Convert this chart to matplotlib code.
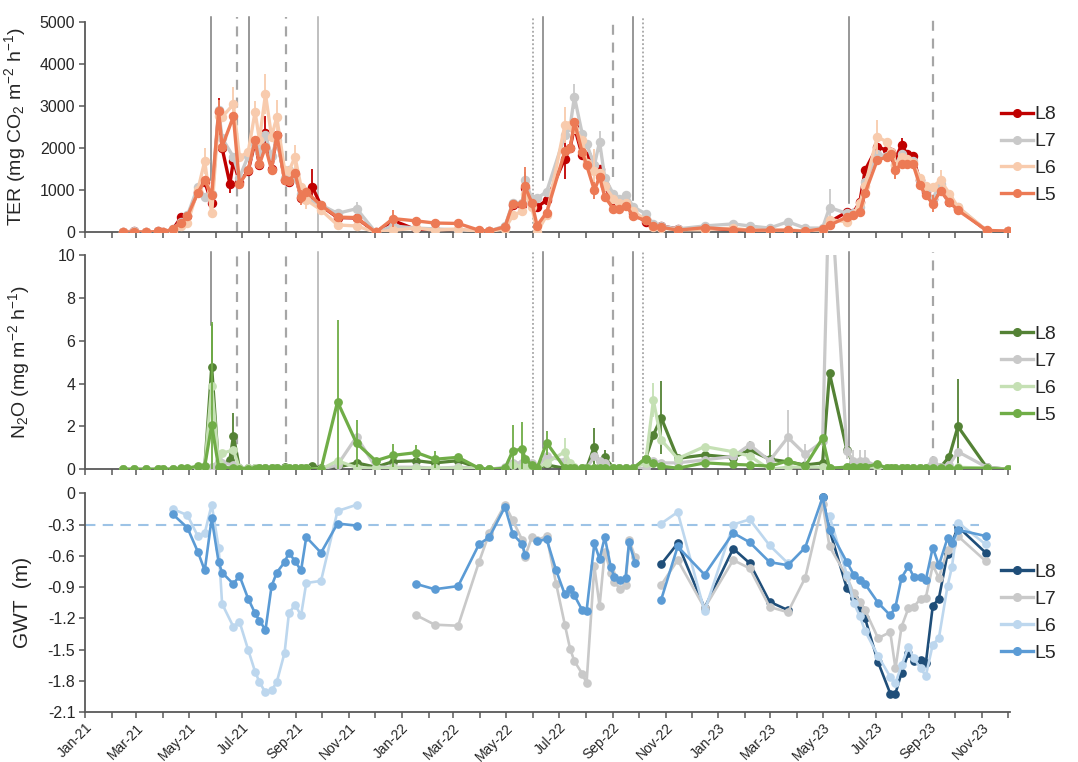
import numpy as np
import pandas as pd
import matplotlib
matplotlib.use("Agg")
import matplotlib.pyplot as plt
import matplotlib.dates as mdates
from matplotlib.ticker import FuncFormatter, MultipleLocator
from matplotlib.lines import Line2D

plt.rcParams['font.family'] = ['Liberation Sans', 'DejaVu Sans']
plt.rcParams['mathtext.default'] = 'regular'

nan = np.nan
series_names = ["L8", "L7", "L6", "L5"]

# ---------------- flux campaign dates (TER and N2O) ----------------
flux_dates = [
    "2021-02-14", "2021-02-26", "2021-03-12", "2021-03-26", "2021-04-01", "2021-04-12", "2021-04-22",
    "2021-04-29", "2021-05-11", "2021-05-19", "2021-05-27", "2021-06-04", "2021-06-08", "2021-06-17",
    "2021-06-21", "2021-06-28", "2021-07-08", "2021-07-16", "2021-07-21", "2021-07-28", "2021-08-04",
    "2021-08-10", "2021-08-19", "2021-08-24", "2021-08-31", "2021-09-07", "2021-09-13", "2021-09-20",
    "2021-09-30", "2021-10-19", "2021-11-10", "2021-12-02", "2021-12-22",
    "2022-01-18", "2022-02-08", "2022-03-07", "2022-03-31", "2022-04-12", "2022-04-30", "2022-05-09",
    "2022-05-20", "2022-05-23", "2022-05-31", "2022-06-06", "2022-06-17", "2022-07-08", "2022-07-14",
    "2022-07-19", "2022-07-28", "2022-08-02", "2022-08-11", "2022-08-17", "2022-08-23", "2022-09-02",
    "2022-09-08", "2022-09-17", "2022-09-25", "2022-10-09", "2022-10-18", "2022-10-27", "2022-11-15",
    "2022-12-16",
    "2023-01-18", "2023-02-06", "2023-03-01", "2023-03-22", "2023-04-11", "2023-05-01", "2023-05-09",
    "2023-05-29", "2023-06-05", "2023-06-13", "2023-06-19", "2023-07-03", "2023-07-14", "2023-07-19",
    "2023-07-24", "2023-07-31", "2023-08-06", "2023-08-13", "2023-08-21", "2023-08-28", "2023-09-05",
    "2023-09-14", "2023-09-24", "2023-10-04", "2023-11-06", "2023-12-01",
]

# ---------------- TER (mg CO2 m-2 h-1) ----------------
ter_L8 = ([0, 30, 0, 20, 0, 60, 370, 380, 950, 1200, 700, 2850, 2000, 1150, 1700, 1200, 1450, 2150, 1600, 2350,
           1500, 2300, 1250, 1200, 1380, 820, 950, 1080, 630, 350, 340, 0, 280]
          + [60, 60, 30, 20, 20, 120, 650, 650, 1050, 700, 600, 760, 1750, 2000, 2500, 1830, 1800, 1500, 1500,
             1100, 700, 620, 650, 450, 250, 150, 150, 80, 80]
          + [60, 40, 40, 40, 20, 80, 245, 483, 450, 721, 1474, 2028, 1950, 1900, 1750, 2069, 1870, 1800, 1230,
             950, 800, 1000, 720, 560, 40, 20])
ter_L7 = ([0, 20, 0, 20, 0, 80, 250, 400, 1077, 840, 900, 2900, 2235, nan, 1790, 1300, 1807, 2100, 1900, 2306,
           1800, 2200, 1300, 1474, 1300, 900, 800, nan, 650, 450, 560, 0, 150]
          + [100, 80, 60, 30, 30, 150, 700, 700, 1240, 800, 806, 964, 2300, 2500, 3217, 2338, 2100, 1593, 2147,
             1300, 900, 800, 880, 600, 444, 200, 150, 80, 150]
          + [200, 150, 100, 250, 100, 100, 587, 450, 450, 600, 1200, 1870, 1800, 1850, 1600, 1870, 1700, 1700,
             1230, 1000, 800, 1158, 800, 601, 40, 20])
ter_L6 = ([0, 0, 0, 0, 0, 40, 150, 213, 1000, 1690, 450, 2750, 2740, nan, 3035, 1790, 1900, 2860, 2200, 3280,
           2270, 2730, 1480, 1450, 1790, 1080, 770, nan, 530, 175, 150, 0, 50]
          + [100, 50, 80, 20, 20, 80, 400, 500, 900, 600, 0, 400, 2545, 2545, 2450, 2200, 1640, 1450, 1400, 1100,
             800, 700, 700, 500, 300, 120, 100, 60, 60]
          + [100, 50, 30, 60, 30, 60, 300, 250, 400, 700, 1100, 2266, 2147, 1900, 1600, 1791, 1750, 1650, 1300,
             1100, 1077, 1236, 920, 600, 40, 20])
ter_L5 = ([0, 10, 0, 20, 0, 80, 230, 380, 940, 1230, 880, 2880, 2030, nan, 2750, 1150, 1470, 2190, 1620, 2020,
           1480, 2320, 1230, 1220, 1400, 830, 960, nan, 640, 360, 350, 0, 325]
          + [270, 220, 210, 50, 30, 130, 680, 670, 1090, 700, 160, 470, 1920, 1990, 2620, 1900, 1600, 1000, 1315,
             840, 560, 560, 620, 380, 285, 150, 120, 50, 110]
          + [64, 50, 50, 50, 20, 88, 166, 364, 402, 483, 935, 1712, 1791, 1870, 1474, 1633, 1633, 1633, 1118,
             880, 682, 982, 721, 523, 48, 24])

ter_err_L8 = {"2021-06-04": 330, "2021-06-17": 220, "2021-07-28": 420, "2021-09-20": 420,
              "2022-07-08": 480, "2022-07-19": 200, "2023-07-03": 150, "2023-07-31": 180}
ter_err_L7 = {"2021-06-04": 250, "2021-11-10": 150, "2022-05-23": 200, "2022-07-19": 300,
              "2022-08-17": 250, "2023-05-09": 450}
ter_err_L6 = {"2021-05-19": 300, "2021-06-21": 420, "2021-07-16": 250, "2021-07-28": 470, "2021-08-10": 400,
              "2021-08-31": 280, "2021-09-13": 220, "2022-05-23": 300, "2022-07-08": 420, "2022-08-11": 520,
              "2023-07-03": 400, "2023-07-24": 320, "2023-09-14": 250}
ter_err_L5 = {"2021-06-04": 250, "2021-09-07": 180, "2021-12-22": 200, "2022-05-23": 450,
              "2022-08-11": 200, "2023-07-24": 200, "2023-09-05": 200}

# ---------------- N2O (mg m-2 h-1) ----------------
n2o_L8 = ([0, 0, 0, 0, 0, 0, 0, 0, 0.1, 0.1, 4.79, 0.1, 0.1, 0.45, 1.55, 0.05, 0.05, 0.05, 0.05, 0.05,
           0.05, 0.05, 0.1, 0.05, 0.05, 0.05, 0.05, 0.15, 0.05, 0.1, 0.3, 0.1, 0.36]
          + [0.4, 0.3, 0.4, 0.05, 0.0, 0.05, 0.1, 0.1, 0.1, 0.1, 0.05, 0.2, 0.05, 0.05, 0.05, 0.05, 0.05, 1.06,
             0.1, 0.56, 0.05, 0.05, 0.05, 0.05, 0.5, 1.6, 2.41, 0.51, 0.67]
          + [0.55, 0.9, 0.47, 0.35, 0.2, 0.3, 4.48, 0.9, 0.3, 0.3, 0.3, 0.1, 0.05, 0.05, 0.05, 0.05, 0.05,
             0.05, 0.05, 0.05, 0.05, 0.1, 0.59, 2.0, 0.1, 0.0])
n2o_L7 = ([0, 0, 0, 0, 0, 0, 0, 0, 0.05, 0.05, 0.1, 0.4, 0.3, nan, 0.2, 0.05, 0.05, 0.05, 0.05, 0.05,
           0.05, 0.05, 0.05, 0.05, 0.05, 0.05, 0.05, nan, 0.0, 0.2, 1.52, 0.1, 0.1]
          + [0.1, 0.05, 0.1, 0.05, 0.0, 0.1, 0.3, 0.3, 0.2, 0.3, 0.1, 0.6, 0.4, 0.1, 0.05, 0.05, 0.05, 0.6,
             0.4, 0.3, 0.05, 0.05, 0.05, 0.05, 0.05, 0.4, 0.3, 0.3, 0.44]
          + [0.6, 1.14, 0.4, 1.49, 0.7, 1.3, 14.0, 0.87, 0.4, 0.4, 0.4, 0.15, 0.05, 0.05, 0.05, 0.05, 0.05,
             0.05, 0.05, 0.05, 0.44, 0.1, 0.2, 0.82, 0.1, 0.0])
n2o_L6 = ([0, 0, 0, 0, 0, 0, 0, 0, 0.05, 0.05, 3.89, 0.3, 0.75, nan, 0.9, 0.05, 0.05, 0.05, 0.05, 0.05,
           0.05, 0.05, 0.05, 0.05, 0.05, 0.05, 0.05, nan, 0.0, 0.4, 0.08, 0.05, 0.05]
          + [0.05, 0.05, 0.05, 0.05, 0.0, 0.05, 0.2, 0.1, 0.1, 0.1, 0.05, 0.3, 0.82, 0.3, 0.1, 0.05, 0.05,
             0.05, 0.05, 0.05, 0.05, 0.05, 0.05, 0.05, 0.3, 3.23, 1.37, 0.5, 1.06]
          + [0.82, 0.62, 0.0, 0.1, 0.1, 0.1, 0.05, 0.1, 0.1, 0.1, 0.1, 0.1, 0.05, 0.05, 0.05, 0.05, 0.05,
             0.05, 0.05, 0.05, 0.05, 0.05, 0.05, 0.1, 0.05, 0.0])
n2o_L5 = ([0, 0, 0, 0, 0, 0, 0.05, 0.05, 0.15, 0.15, 2.07, 0.1, 0.1, nan, 0.05, 0.03, 0.03, 0.03, 0.05, 0.05,
           0.05, 0.08, 0.08, 0.05, 0.05, 0.05, 0.05, nan, 0.0, 3.15, 1.21, 0.4, 0.65]
          + [0.78, 0.47, 0.56, 0.05, 0.0, 0.05, 0.86, 0.95, 0.5, 0.2, 0.05, 1.24, 0.05, 0.05, 0.05, 0.05, 0.05,
             0.05, 0.05, 0.05, 0.05, 0.05, 0.05, 0.05, 0.5, 0.3, 0.15, 0.05, 0.3]
          + [0.23, 0.2, 0.15, 0.39, 0.15, 1.45, 0.05, 0.1, 0.1, 0.1, 0.1, 0.25, 0.05, 0.05, 0.05, 0.05, 0.05,
             0.05, 0.05, 0.05, 0.05, 0.05, 0.05, 0.05, 0.05, 0.0])

n2o_err_L8 = {"2021-05-27": 2.0, "2021-06-21": 1.1, "2022-08-11": 0.85, "2022-08-23": 0.35,
              "2022-10-27": 1.7, "2023-02-06": 0.4, "2023-03-01": 0.9, "2023-10-04": 2.2}
n2o_err_L7 = {"2023-03-22": 1.3, "2023-04-11": 0.5, "2023-05-29": 0.4, "2023-06-05": 0.5,
              "2023-06-13": 0.5, "2023-06-19": 0.5}
n2o_err_L6 = {"2022-07-08": 0.65, "2022-10-18": 0.8}
n2o_err_L5 = {"2021-05-27": 4.8, "2021-10-19": 3.8, "2021-11-10": 1.1, "2021-12-22": 0.55,
              "2022-01-18": 0.35, "2022-02-08": 0.4, "2022-05-09": 1.2, "2022-05-20": 1.25,
              "2022-06-17": 0.55}

# ---------------- GWT (m) ----------------
gwt_dates = [
    "2021-04-12", "2021-04-29", "2021-05-11", "2021-05-19", "2021-05-27", "2021-06-04", "2021-06-08",
    "2021-06-21", "2021-06-28", "2021-07-08", "2021-07-16", "2021-07-21", "2021-07-28", "2021-08-04",
    "2021-08-10", "2021-08-19", "2021-08-24", "2021-08-31", "2021-09-07", "2021-09-13", "2021-09-30",
    "2021-10-19", "2021-11-10", "2021-12-15",
    "2022-01-18", "2022-02-08", "2022-03-07", "2022-03-31", "2022-04-12", "2022-04-30", "2022-05-09",
    "2022-05-20", "2022-05-23", "2022-05-31", "2022-06-06", "2022-06-17", "2022-06-28", "2022-07-08",
    "2022-07-14", "2022-07-19", "2022-07-28", "2022-08-02", "2022-08-11", "2022-08-17", "2022-08-23",
    "2022-08-30", "2022-09-03", "2022-09-10", "2022-09-16", "2022-09-20", "2022-09-27", "2022-10-10",
    "2022-10-27", "2022-11-15", "2022-12-16",
    "2023-01-18", "2023-02-06", "2023-03-01", "2023-03-22", "2023-04-11", "2023-05-01", "2023-05-09",
    "2023-05-29", "2023-06-06", "2023-06-13", "2023-06-19", "2023-07-04", "2023-07-18", "2023-07-24",
    "2023-07-31", "2023-08-08", "2023-08-14", "2023-08-22", "2023-08-28", "2023-09-05", "2023-09-12",
    "2023-09-22", "2023-09-27", "2023-10-04", "2023-11-05",
]
gwt_L8 = ([nan] * 24
          + [nan] * 28
          + [-0.68, -0.48, -1.10]
          + [-0.53, -0.67, -1.04, -1.12, nan, -0.04, -0.35, -0.91, -1.00, -1.10, -1.20, -1.62, -1.92, -1.92,
             -1.72, -1.53, -1.61, -1.60, -1.63, -1.08, -1.01, -0.58, -0.48, -0.32, -0.57])
gwt_L7 = ([nan] * 24
          + [-1.17, -1.26, -1.27, -0.66, -0.38, -0.11, -0.26, -0.45, -0.61, -0.42, -0.45, -0.41, -0.87, -1.26,
             -1.49, -1.61, -1.73, -1.82, -0.70, -1.08, -0.56, -0.76, -0.85, -0.92, -0.88, -0.45, -0.61, nan]
          + [-0.88, -0.64, -1.10]
          + [-0.64, -0.72, -1.09, -1.14, -0.81, -0.10, -0.51, -0.80, -0.96, -1.04, -1.12, -1.39, -1.33, -1.68,
             -1.28, -1.10, -1.09, -1.01, -1.00, -0.69, -0.81, -0.54, -0.50, -0.41, -0.65])
gwt_L6 = ([-0.15, -0.21, -0.41, -0.38, -0.11, -0.52, -1.06, -1.28, -1.23, -1.50, -1.71, -1.81, -1.91, -1.89,
           -1.81, -1.53, -1.15, -1.07, -1.17, -0.86, -0.84, -0.17, -0.11, nan]
          + [nan] * 28
          + [-0.29, -0.18, -1.13]
          + [-0.30, -0.25, -0.50, -0.67, nan, nan, -0.22, -0.78, -1.05, -1.18, -1.32, -1.56, -1.76, -1.82,
             -1.65, -1.47, -1.58, -1.68, -1.75, -1.45, -1.39, -0.89, -0.71, -0.28, -0.49])
gwt_L5 = ([-0.20, -0.33, -0.56, -0.74, -0.24, -0.66, -0.76, -0.87, -0.79, -1.01, -1.15, -1.22, -1.31, -0.89,
           -0.76, -0.66, -0.57, -0.65, -0.74, -0.42, -0.57, -0.29, -0.31, nan]
          + [-0.87, -0.92, -0.89, -0.49, -0.42, -0.13, -0.39, -0.49, -0.59, nan, -0.46, -0.44, -0.74, -0.97,
             -0.92, -0.98, -1.12, -1.13, -0.48, -0.63, -0.42, -0.71, -0.80, -0.83, -0.81, -0.47, -0.67, nan]
          + [-1.02, -0.51, -0.78]
          + [-0.38, -0.47, -0.66, -0.69, -0.52, -0.04, -0.35, -0.66, -0.78, -0.83, -0.87, -1.05, -1.17, -1.09,
             -0.81, -0.70, -0.80, -0.80, -0.83, -0.52, -0.69, -0.43, -0.48, -0.35, -0.41])
gwt_reference = -0.3
gwt_reference_span = ["2021-01-01", "2023-10-28"]

# ---------------- management events (vertical markers) ----------------
event_dates = ["2021-05-26", "2021-06-25", "2021-07-09", "2021-08-21", "2021-09-27", "2022-06-01",
               "2022-06-13", "2022-09-02", "2022-09-25", "2022-10-06", "2023-06-01", "2023-09-05"]
event_kind = ["solid", "dashed", "solid", "dashed", "light", "dotted",
              "solid", "dashed", "solid", "dotted", "solid", "dashed"]
ter_event_floor = [1240, 0, 0, 0, 0, 0, 1240, 1315, 760, 600, 690, 1400]
n2o_event_floor = [6.75, 0.33, 0.24, 0.33, 0, 0.16, 1.0, 0.33, 0, 0.33, 1.0, 0.16]

# ---------------- styling ----------------
ter_colors = ["#C00000", "#C9C9C9", "#F8CBAD", "#EC7A55"]
n2o_colors = ["#548235", "#C9C9C9", "#C5E0B4", "#70AD47"]
gwt_colors = ["#1F4E79", "#C9C9C9", "#BDD7EE", "#5B9BD5"]
axis_color = "#595959"
text_color = "#262626"

W, H = 1078, 762
fig = plt.figure(figsize=(W / 100, H / 100), dpi=100)
left = 85 / W
width = (1010 - 85) / W
ax_ter = fig.add_axes([left, 1 - 232.3 / H, width, 210.6 / H])
ax_n2o = fig.add_axes([left, 1 - 469.3 / H, width, 214.3 / H])
ax_gwt = fig.add_axes([left, 1 - 712.3 / H, width, 219.0 / H])

xmin = pd.Timestamp("2021-01-01")
xmax = pd.Timestamp("2023-12-03")


def err_array(dates, errs):
    return np.array([errs.get(d, nan) for d in dates], float)


def draw(ax, dates, values, errs, color, lw, ms, z, connect=True):
    x = pd.to_datetime(pd.Series(dates))
    y = np.array(values, float)
    if errs is not None:
        e = err_array(dates, errs)
        m = ~np.isnan(e) & ~np.isnan(y)
        if m.any():
            ax.errorbar(x[m], y[m], yerr=e[m], fmt="none", ecolor=color, elinewidth=1.3,
                        capsize=0, zorder=z)
    if connect:
        m = ~np.isnan(y)
        x, y = x[m], y[m]
    ax.plot(x, y, color=color, lw=lw, marker="o", ms=ms, mec=color, mfc=color, zorder=z + 0.5,
            solid_joinstyle="round")


def style_axis(ax, show_labels):
    for s in ["top", "right"]:
        ax.spines[s].set_visible(False)
    for s in ["left", "bottom"]:
        ax.spines[s].set_color(axis_color)
        ax.spines[s].set_linewidth(1.3)
    ax.set_xlim(xmin, xmax)
    ax.xaxis.set_major_locator(mdates.MonthLocator())
    if show_labels:
        ax.xaxis.set_major_formatter(FuncFormatter(
            lambda v, p: mdates.num2date(v).strftime("%b-%y") if mdates.num2date(v).month % 2 == 1 else ""))
    else:
        ax.xaxis.set_major_formatter(FuncFormatter(lambda v, p: ""))
    ax.tick_params(axis="x", direction="out", length=4, width=1.1, color=axis_color,
                   labelsize=10, labelcolor=text_color, pad=2)
    ax.tick_params(axis="y", direction="out", length=4, width=1.1, color=axis_color,
                   labelsize=11.5, labelcolor=text_color, pad=3)


def draw_events(ax, floors, top):
    for d, k, f in zip(event_dates, event_kind, floors):
        x = pd.Timestamp(d)
        if k == "solid":
            kw = dict(color="#7A7A7A", lw=1.1, ls="-")
        elif k == "light":
            kw = dict(color="#AEAEAE", lw=1.1, ls="-")
        elif k == "dashed":
            kw = dict(color="#A6A6A6", lw=1.6, ls=(0, (4.5, 3.5)))
        else:
            kw = dict(color="#A6A6A6", lw=1.3, ls=(0, (1, 1.3)))
        ax.plot([x, x], [f, top], zorder=1, clip_on=False, **kw)


# ---- TER ----
ter_vals = [ter_L8, ter_L7, ter_L6, ter_L5]
ter_errs = [ter_err_L8, ter_err_L7, ter_err_L6, ter_err_L5]
draw_events(ax_ter, ter_event_floor, 5120)
for i in range(4):
    draw(ax_ter, flux_dates, ter_vals[i], ter_errs[i], ter_colors[i], 2.4, 5.8, 2 + i)
ax_ter.set_ylim(0, 5000)
ax_ter.yaxis.set_major_locator(MultipleLocator(1000))
style_axis(ax_ter, False)
ax_ter.set_ylabel("TER (mg CO$_2$ m$^{-2}$ h$^{-1}$)", fontsize=14, color=text_color)
ax_ter.yaxis.set_label_coords(-0.062, 0.5)

# ---- N2O ----
n2o_vals = [n2o_L8, n2o_L7, n2o_L6, n2o_L5]
n2o_errs = [n2o_err_L8, n2o_err_L7, n2o_err_L6, n2o_err_L5]
draw_events(ax_n2o, n2o_event_floor, 10.12)
for i in range(4):
    draw(ax_n2o, flux_dates, n2o_vals[i], n2o_errs[i], n2o_colors[i], 2.3, 5.3, 2 + i)
ax_n2o.set_ylim(0, 10)
ax_n2o.yaxis.set_major_locator(MultipleLocator(2))
style_axis(ax_n2o, False)
ax_n2o.set_ylabel("N$_2$O (mg m$^{-2}$ h$^{-1}$)", fontsize=14, color=text_color)
ax_n2o.yaxis.set_label_coords(-0.057, 0.5)

# ---- GWT ----
ax_gwt.plot(pd.to_datetime(gwt_reference_span), [gwt_reference, gwt_reference], color="#9DC3E6",
            lw=1.5, ls=(0, (5, 3.5)), zorder=1)
gwt_vals = [gwt_L8, gwt_L7, gwt_L6, gwt_L5]
for i in range(4):
    draw(ax_gwt, gwt_dates, gwt_vals[i], None, gwt_colors[i], 1.9, 5.2, 2 + i, connect=False)
ax_gwt.set_ylim(-2.1, 0)
ax_gwt.set_yticks(np.arange(-2.1, 0.01, 0.3))
ax_gwt.yaxis.set_major_formatter(FuncFormatter(lambda v, p: "0" if abs(v) < 1e-9 else f"{v:.1f}"))
style_axis(ax_gwt, True)
for lab in ax_gwt.get_xticklabels():
    lab.set_rotation(45)
    lab.set_ha("right")
    lab.set_rotation_mode("anchor")
ax_gwt.set_ylabel("GWT  (m)", fontsize=15, color=text_color)
ax_gwt.yaxis.set_label_coords(-0.057, 0.5)

# ---- legends ----
def add_legend(colors, yc):
    handles = [Line2D([], [], color=c, lw=2.4, marker="o", ms=5.5, mec=c, mfc=c) for c in colors]
    fig.legend(handles, series_names, loc="center left", bbox_to_anchor=(0.929, yc),
               frameon=False, fontsize=14, handlelength=1.6, handletextpad=0.1,
               labelspacing=0.48, borderpad=0, borderaxespad=0, labelcolor=text_color)

add_legend(ter_colors, 1 - 155 / H)
add_legend(n2o_colors, 1 - 374.5 / H)
add_legend(gwt_colors, 1 - 612.5 / H)

fig.savefig("out.png", dpi=100)
